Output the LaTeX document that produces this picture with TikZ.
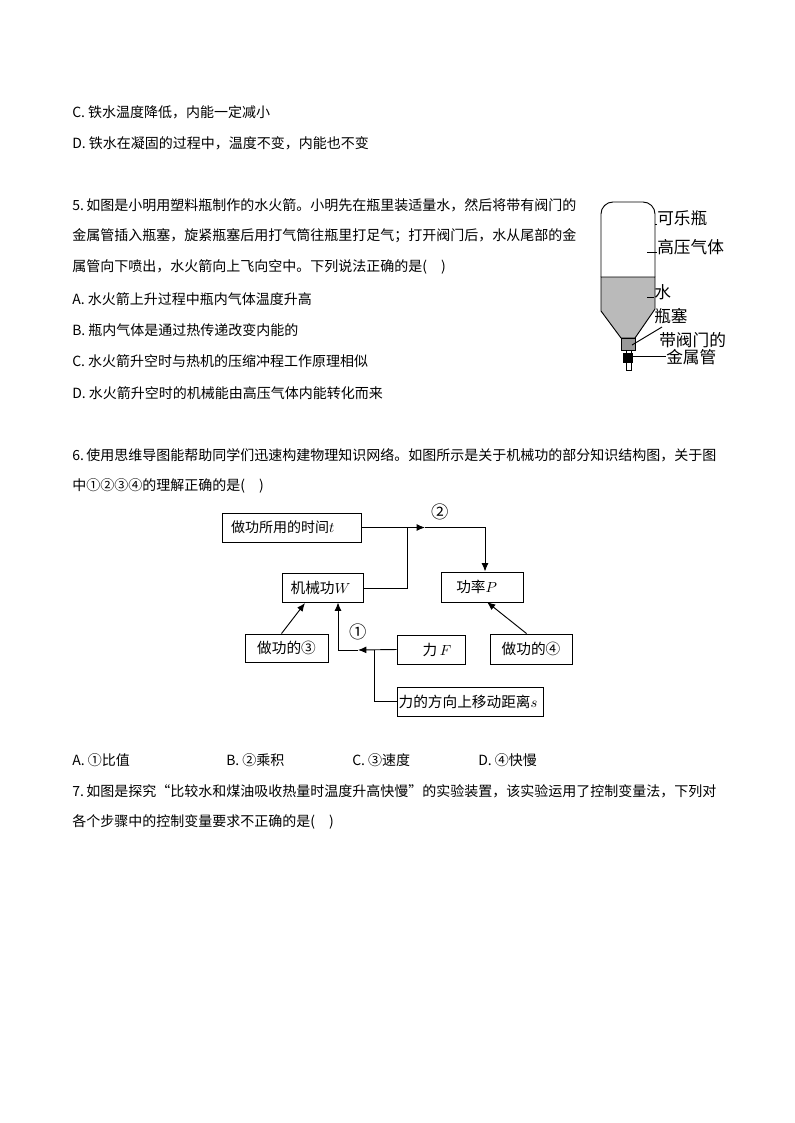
\documentclass[tikz,border=0pt]{standalone}
\usepackage{fontspec}
\setmainfont{Noto Sans CJK SC}
\usetikzlibrary{arrows.meta}
\tikzset{%
  >={Latex[width=1.8mm,length=2.2mm]},
  % Specifications for style of nodes:
       textLine/.style = {anchor=west, inner sep=0pt, font=\fontsize{10.5pt}{12pt}\selectfont},
        flowBox/.style = {rectangle, draw=black, line width=0.7pt, inner sep=0pt,
                          font=\fontsize{11pt}{12pt}\selectfont},
      flowLabel/.style = {inner sep=0pt, font=\fontsize{13pt}{14pt}\selectfont},
    bottleLabel/.style = {anchor=west, inner sep=0pt, font=\fontsize{12.5pt}{14pt}\selectfont},
           line/.style = {line width=0.7pt},
}
\begin{document}
\begin{tikzpicture}[x=0.75pt, y=-0.75pt]
  \useasboundingbox (0,0) rectangle (794,1123);
  \fill[white] (0,0) rectangle (794,1123);

  % Lines of text
  \node (lineC)  [textLine] at (72,112) {C. 铁水温度降低，内能一定减小};
  \node (lineD)  [textLine] at (72,143) {D. 铁水在凝固的过程中，温度不变，内能也不变};
  \node (five)   [textLine] at (72,205) {5.\,如图是小明用塑料瓶制作的水火箭。小明先在瓶里装适量水，然后将带有阀门的};
  \node (fiveB)  [textLine] at (72,236) {金属管插入瓶塞，旋紧瓶塞后用打气筒往瓶里打足气；打开阀门后，水从尾部的金};
  \node (fiveC)  [textLine] at (72,267) {属管向下喷出，水火箭向上飞向空中。下列说法正确的是(\quad)};
  \node (fiveOptA) [textLine] at (72,299) {A. 水火箭上升过程中瓶内气体温度升高};
  \node (fiveOptB) [textLine] at (72,330) {B. 瓶内气体是通过热传递改变内能的};
  \node (fiveOptC) [textLine] at (72,361) {C. 水火箭升空时与热机的压缩冲程工作原理相似};
  \node (fiveOptD) [textLine] at (72,393) {D. 水火箭升空时的机械能由高压气体内能转化而来};
  \node (six)    [textLine] at (72,455) {6.\,使用思维导图能帮助同学们迅速构建物理知识网络。如图所示是关于机械功的部分知识结构图，关于图};
  \node (sixB)   [textLine] at (72,486) {中①②③④的理解正确的是(\quad)};
  \node (sixOptA) [textLine] at (72,760)  {A. ①比值};
  \node (sixOptB) [textLine] at (226,760) {B. ②乘积};
  \node (sixOptC) [textLine] at (352,760) {C. ③速度};
  \node (sixOptD) [textLine] at (478,760) {D. ④快慢};
  \node (seven)  [textLine] at (72,791) {7.\,如图是探究“比较水和煤油吸收热量时温度升高快慢”的实验装置，该实验运用了控制变量法，下列对};
  \node (sevenB) [textLine] at (72,822) {各个步骤中的控制变量要求不正确的是(\quad)};

  % Bottle
  \draw[line, fill=black!27] (601,277) -- (601,311) -- (621,338) -- (635,338) -- (655,309) -- (655,277) -- cycle;
  \draw[line, rounded corners=9pt] (601,277) -- (601,202) -- (655,202) -- (655,277);
  \draw[line, fill=black!40] (621,338) rectangle (635,350);
  \draw[line, fill=white] (626,350) rectangle (631,370);
  \fill[black] (623,353) rectangle (633,363);

  \node (colaBottle) [bottleLabel] at (657,218) {可乐瓶};
  \node (highGas)    [bottleLabel] at (657,247) {高压气体};
  \node (waterLabel) [bottleLabel] at (654,292) {水};
  \node (plugLabel)  [bottleLabel] at (654,316) {瓶塞};
  \node (valveLabel) [bottleLabel] at (659,340) {带阀门的};
  \node (tubeLabel)  [bottleLabel] at (666,357) {金属管};

  \coordinate (colaEnd)  at (655,224);
  \coordinate (gasEnd)   at (647,252);
  \coordinate (waterEnd) at (647,297);
  \coordinate (plugEnd)  at (632,345);
  \coordinate (tubeEnd)  at (633,356);
  \draw[line] (colaEnd) -- (colaBottle.west |- colaEnd);
  \draw[line] (gasEnd) -- (highGas.west |- gasEnd);
  \draw[line] (waterEnd) -- (waterLabel.west |- waterEnd);
  \draw[line] (plugEnd) -- (662,327);
  \draw[line] (tubeEnd) -- (tubeLabel.west |- tubeEnd);

  % Flow chart boxes
  \node (timeBlock)  [flowBox, minimum width=104.25pt, minimum height=21.75pt, font=\fontsize{10.5pt}{12pt}\selectfont] at (291.5,527.5) {做功所用的时间$t$\hspace{13pt}\mbox{}};
  \node (workBlock)  [flowBox, minimum width=60.75pt, minimum height=21.75pt] at (322.5,587.5) {机械功$W$\hspace{3pt}\mbox{}};
  \node (powerBlock) [flowBox, minimum width=61.5pt, minimum height=22.5pt] at (482,587) {功率$P$\hspace{8pt}\mbox{}};
  \node (doThree)    [flowBox, minimum width=62.25pt, minimum height=21pt] at (286.5,648) {做功的③};
  \node (forceBlock) [flowBox, minimum width=51pt, minimum height=21.75pt] at (431,649.5) {\hspace{9pt}力\,$F$};
  \node (doFour)     [flowBox, minimum width=61.5pt, minimum height=22.5pt] at (531,649) {做功的④};
  \node (distBlock)  [flowBox, minimum width=109.5pt, minimum height=21.75pt] at (470,701.5) {力的方向上移动距离$s$\hspace{3pt}\mbox{}};

  \node (markTwo) [flowLabel] at (440,512) {②};
  \node (markOne) [flowLabel] at (358,632) {①};

  % Connectors
  \coordinate (timeArrow)   at (425,527.5);
  \coordinate (timeCorner)  at (485,527.5);
  \coordinate (workCorner)  at (407,588);
  \coordinate (workJoin)    at (407,527.5);
  \coordinate (forceArrow)  at (358,650);
  \coordinate (forceCorner) at (338,650);
  \coordinate (distCorner)  at (374,701.5);
  \coordinate (distJoin)    at (374,650);
  \draw[line, ->] (timeBlock.east) -- (timeArrow);
  \draw[line, ->] (timeArrow) -- (timeCorner) -- (timeCorner |- powerBlock.north);
  \draw[line] (workCorner -| workBlock.east) -- (workCorner) -- (workJoin);
  \draw[line, ->] (doThree.north west) ++(37,0) -- (305,603);
  \draw[line, ->] (doFour.north west) ++(37,0) -- (487,602);
  \draw[line, ->] (forceBlock.west) -- (forceArrow);
  \draw[line, ->] (forceArrow) -- (forceCorner) -- (forceCorner |- workBlock.south);
  \draw[line] (distBlock.west) -- (distCorner) -- (distJoin);
\end{tikzpicture}
\end{document}
